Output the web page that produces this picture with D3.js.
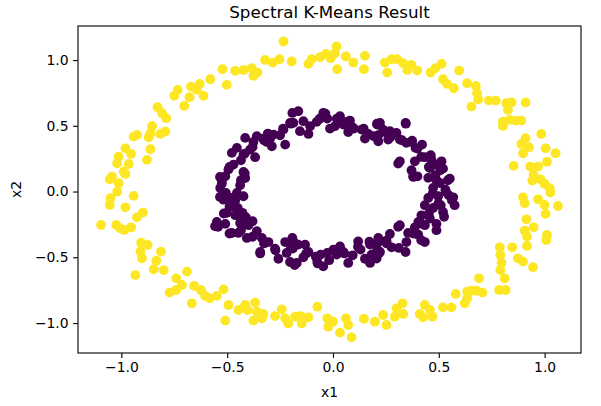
<!DOCTYPE html>
<html><head><meta charset="utf-8">
<script src="https://cdn.jsdelivr.net/npm/d3@7"></script>
<style>
body{margin:0;background:#fff}
text{font-family:"DejaVu Sans",sans-serif}
</style>
</head><body>
<svg id="c" width="601" height="406"></svg>
<script>
const chartTitle = "Spectral K-Means Result";
const xLabel = "x1";
const yLabel = "x2";
const xTicks = [-1, -0.5, 0, 0.5, 1];
const yTicks = [-1, -0.5, 0, 0.5, 1];
const clusterColors = ["#440154", "#fde725"];

// cluster 0 (inner ring)
const innerRing = [
[-0.192,0.598],[-0.203,0.522],[-0.234,0.471],[-0.226,0.357],[-0.250,0.428],[-0.281,0.433],[-0.297,0.403],[-0.313,0.377],
[-0.289,0.344],[-0.329,0.403],[-0.360,0.421],[-0.376,0.377],[-0.415,0.408],[-0.392,0.319],[-0.423,0.281],[-0.454,0.332],
[-0.478,0.294],[-0.368,0.261],[-0.470,0.205],[-0.494,0.167],[-0.509,0.116],[-0.525,0.083],[-0.533,0.027],[-0.506,-0.011],
[-0.517,-0.062],[-0.481,-0.049],[-0.423,0.149],[-0.415,0.103],[-0.439,0.048],[-0.454,-0.011],[-0.423,-0.036],[-0.478,-0.112],
[-0.450,-0.125],[-0.502,-0.162],[-0.462,-0.180],[-0.428,-0.162],[-0.412,-0.195],[-0.549,-0.231],[-0.557,-0.264],[-0.509,-0.246],
[-0.439,-0.239],[-0.399,-0.256],[-0.380,-0.226],[-0.478,-0.315],[-0.447,-0.315],[-0.407,-0.353],[-0.360,-0.302],[-0.336,-0.353],
[-0.305,-0.384],[-0.344,-0.460],[-0.274,-0.434],[-0.258,-0.511],[-0.226,-0.384],[-0.219,-0.467],[-0.203,-0.536],[-0.192,-0.353],
[-0.164,0.611],[-0.187,0.522],[-0.140,0.535],[-0.108,0.497],[-0.116,0.438],[-0.077,0.530],[-0.046,0.598],[-0.027,0.555],
[-0.014,0.479],[0.033,0.573],[0.049,0.509],[0.080,0.540],[0.099,0.479],[0.072,0.453],[0.135,0.471],[0.167,0.438],
[0.151,0.403],[0.193,0.421],[0.209,0.509],[0.214,0.382],[-0.156,0.459],[0.009,0.497],
[-0.187,-0.379],[-0.190,-0.434],[-0.164,-0.404],[-0.132,-0.404],[-0.116,-0.460],[-0.140,-0.500],[-0.171,-0.543],[-0.074,-0.536],
[-0.058,-0.480],[-0.046,-0.569],[-0.027,-0.467],[0.002,-0.442],[0.017,-0.480],[0.033,-0.417],[0.049,-0.460],[0.072,-0.543],
[0.093,-0.485],[0.119,-0.379],[0.130,-0.442],[0.151,-0.511],[0.175,-0.404],[0.182,-0.480],[0.209,-0.442],[0.214,-0.353],[0.175,-0.543],
[0.222,0.522],[0.214,0.428],[0.237,0.471],[0.269,0.459],[0.261,0.395],[0.300,0.446],[0.343,0.522],[0.316,0.395],
[0.347,0.370],[0.374,0.387],[0.390,0.332],[0.421,0.357],[0.316,0.230],[0.387,0.230],[0.434,0.261],[0.465,0.243],
[0.458,0.179],[0.489,0.205],[0.513,0.230],[0.520,0.174],[0.379,0.116],[0.399,0.116],[0.450,0.104],[0.484,0.124],
[0.505,0.065],[0.552,0.098],[0.473,0.027],[0.531,0.015],[0.547,-0.028],[0.497,-0.036],[0.568,-0.044],[0.575,-0.104],
[0.450,-0.049],[0.434,-0.104],[0.473,-0.125],[0.509,-0.104],[0.520,-0.155],[0.458,-0.206],[0.418,-0.181],[0.403,-0.231],
[0.489,-0.246],[0.434,-0.256],[0.387,-0.272],[0.316,-0.256],[0.355,-0.315],[0.403,-0.328],[0.434,-0.384],[0.347,-0.384],
[0.269,-0.323],[0.253,-0.373],[0.214,-0.384],[0.222,-0.460],[0.277,-0.424],[0.311,-0.429],[0.343,-0.460],[0.206,-0.510],
[-0.036,0.592],[-0.063,0.554],[0.018,0.554],[0.063,0.529],[0.091,0.491],[0.145,0.478],[0.208,0.516],[0.245,0.453],
[0.272,0.415],[0.344,0.516],[0.326,0.390],[0.371,0.377],[0.399,0.327],[0.417,0.263],[0.462,0.276],[0.453,0.187],
[0.507,0.162],[0.489,0.086],[0.543,0.086],[0.471,-0.015],[0.534,-0.003],[0.498,-0.091],[0.562,-0.066],[0.453,-0.167],
[0.525,-0.192],[0.417,-0.243],[0.489,-0.294],[0.380,-0.319],[0.417,-0.370],[0.308,-0.268],[0.254,-0.395],[0.217,-0.471],
[0.172,-0.382],[0.118,-0.420],[0.054,-0.471],[-0.018,-0.522],[-0.072,-0.547],[-0.081,-0.496],[-0.127,-0.471],[-0.181,-0.559],
[-0.199,-0.420],[-0.272,-0.446],[-0.326,-0.395],[-0.344,-0.471],[-0.380,-0.344],[-0.435,-0.294],[-0.489,-0.319],[-0.543,-0.268],
[-0.516,-0.167],[-0.489,-0.116],[-0.534,-0.041],[-0.525,0.061],[-0.534,0.111],[-0.489,0.187],[-0.435,0.238],[-0.417,0.289],
[-0.380,0.339],[-0.326,0.390],[-0.308,0.441],[-0.236,0.478],[-0.199,0.516],[-0.435,0.086],[-0.417,0.137],[-0.462,-0.066],
[-0.444,-0.167],[0.308,0.213],[0.380,0.111],[0.371,0.162]
];

// cluster 1 (outer ring)
const outerRing = [
[-0.522,0.930],[-0.462,0.918],[-0.502,0.811],[-0.580,0.854],[-0.630,0.819],[-0.643,0.773],[-0.671,0.798],[-0.612,0.728],
[-0.678,0.717],[-0.703,0.651],[-0.734,0.773],[-0.750,0.728],[-0.829,0.641],[-0.808,0.596],[-0.788,0.558],[-0.855,0.499],
[-0.863,0.443],[-0.816,0.438],[-0.792,0.456],[-0.926,0.431],[-0.942,0.418],[-0.871,0.413],[-0.981,0.329],[-0.954,0.286],
[-0.863,0.322],[-0.879,0.241],[-1.013,0.266],[-1.020,0.215],[-0.965,0.210],[-0.989,0.152],[-1.044,0.114],[-1.055,0.093],
[-1.013,0.063],[-0.981,0.134],
[-0.423,0.925],[-0.384,0.938],[-0.376,0.880],[-0.357,0.905],[-0.321,1.001],[-0.285,0.981],[-0.253,1.006],[-0.234,1.141],
[-0.195,0.989],[-0.116,0.971],[-0.101,1.006],[-0.061,1.022],[-0.033,1.047],[-0.011,1.014],[0.017,1.104],[0.009,1.052],
[0.020,0.930],[0.061,1.027],[0.096,0.981],[0.151,1.032],[0.146,0.930],[0.245,0.981],[0.277,1.006],[0.303,1.006],
[0.256,0.905],[0.332,0.976],[0.351,0.925],
[0.371,0.963],[0.398,0.920],[0.461,0.905],[0.484,0.938],[0.513,0.971],[0.520,0.854],[0.539,0.819],[0.571,0.786],
[0.596,0.920],[0.634,0.824],[0.675,0.803],[0.681,0.747],[0.686,0.702],[0.654,0.646],[0.737,0.692],[0.769,0.692],
[0.819,0.672],[0.844,0.677],[0.827,0.621],[0.910,0.677],[0.803,0.532],[0.803,0.499],[0.835,0.545],[0.863,0.540],
[0.890,0.540],[0.910,0.406],[0.890,0.362],[0.926,0.337],[0.898,0.291],[0.984,0.438],[1.005,0.329],[1.011,0.227],
[1.052,0.291],[0.854,0.195],[0.932,0.190],[0.969,0.190],[0.948,0.126],[0.942,0.083],[0.980,0.093],[1.000,0.058],[1.024,0.025],
[0.898,-0.044],[0.906,-0.089],[0.969,-0.059],[1.000,-0.102],[1.027,-0.008],[1.063,-0.110],[1.005,-0.170],[0.914,-0.211],
[0.906,-0.297],[0.948,-0.272],[0.917,-0.343],[0.917,-0.414],[1.011,-0.330],[1.008,-0.368],[0.788,-0.424],[0.847,-0.424],
[0.791,-0.483],[0.796,-0.541],[0.791,-0.597],[0.811,-0.660],[0.785,-0.749],[0.816,-0.749],[0.874,-0.508],[0.898,-0.533],
[0.945,-0.576],[0.690,-0.660],[0.654,-0.754],[0.634,-0.761],[0.678,-0.754],[0.706,-0.769],[0.623,-0.850],[0.634,-0.812],
[0.580,-0.779],[0.520,-0.881],[0.560,-0.881],[0.434,-0.863],[0.410,-0.931],[0.426,-0.957],[0.470,-0.952],[0.458,-0.901],
[-0.415,-0.863],[-0.404,-0.901],[-0.368,-0.845],[-0.360,-0.914],[-0.329,-0.931],[-0.336,-0.964],[-0.376,-0.982],[-0.274,-0.947],
[-0.242,-0.896],[-0.226,-0.964],[-0.211,-1.003],[-0.179,-0.952],[-0.153,-0.947],[-0.148,-1.003],[-0.116,-0.957],[-0.074,-0.876],
[-0.027,-0.964],[-0.022,-1.028],[0.000,-0.990],[0.033,-1.073],[0.061,-0.964],[0.072,-1.015],[0.088,-1.109],[0.146,-0.967],
[0.198,-0.990],[0.237,-0.939],[0.253,-1.015],[0.292,-0.952],[0.300,-0.888],[0.329,-0.850],[0.332,-0.931],
[-1.020,-0.001],[-1.052,-0.051],[-1.055,-0.102],[-0.942,-0.033],[-0.981,-0.120],[-0.898,-0.160],[-0.926,-0.196],[-1.096,-0.254],
[-1.024,-0.254],[-1.005,-0.280],[-0.986,-0.292],[-0.954,-0.272],[-0.907,-0.389],[-0.876,-0.406],[-0.910,-0.457],[-0.903,-0.508],
[-0.813,-0.457],[-0.835,-0.526],[-0.847,-0.591],[-0.800,-0.597],[-0.934,-0.635],[-0.741,-0.660],[-0.714,-0.711],[-0.690,-0.609],
[-0.772,-0.769],[-0.741,-0.749],[-0.656,-0.718],[-0.624,-0.749],[-0.604,-0.794],[-0.583,-0.812],[-0.549,-0.794],[-0.517,-0.744],
[-0.667,-0.850],[-0.494,-0.863],[-0.509,-0.982],[-0.447,-0.901]
];

const svg = d3.select("#c");
const L = 78, R = 581, T = 26, B = 353;
const x = d3.scaleLinear().domain([-1.205, 1.172]).range([L, R]);
const y = d3.scaleLinear().domain([-1.228, 1.259]).range([B, T]);

const points = innerRing.map(p => ({x:p[0], y:p[1], c:0}))
  .concat(outerRing.map(p => ({x:p[0], y:p[1], c:1})));

svg.append("g").selectAll("circle").data(points).join("circle")
  .attr("cx", d => x(d.x)).attr("cy", d => y(d.y)).attr("r", 4.9)
  .attr("fill", d => clusterColors[d.c]);

const fmt = d3.format(".1f");
const gx = svg.append("g").attr("transform", `translate(0,${B})`)
  .call(d3.axisBottom(x).tickValues(xTicks).tickFormat(fmt).tickSize(4.9).tickPadding(4.5).tickSizeOuter(0));
const gy = svg.append("g").attr("transform", `translate(${L},0)`)
  .call(d3.axisLeft(y).tickValues(yTicks).tickFormat(fmt).tickSize(4.9).tickPadding(4.5).tickSizeOuter(0));
[gx, gy].forEach(g => {
  g.select(".domain").remove();
  g.selectAll("line").attr("stroke", "#000").attr("stroke-width", 1.1);
  g.selectAll("text").attr("fill", "#000").style("font-size", "13.9px").style("font-family", "DejaVu Sans");
});

svg.append("rect").attr("x", L).attr("y", T).attr("width", R - L).attr("height", B - T)
  .attr("fill", "none").attr("stroke", "#000").attr("stroke-width", 1.1);

svg.append("text").attr("x", (L + R) / 2).attr("y", 18).attr("text-anchor", "middle")
  .style("font-size", "16.7px").attr("fill", "#000").text(chartTitle);
svg.append("text").attr("x", (L + R) / 2).attr("y", 397).attr("text-anchor", "middle")
  .style("font-size", "13.9px").attr("fill", "#000").text(xLabel);
svg.append("text").attr("transform", `translate(21,${(T + B) / 2}) rotate(-90)`).attr("text-anchor", "middle")
  .style("font-size", "13.9px").attr("fill", "#000").text(yLabel);
</script>
</body></html>
